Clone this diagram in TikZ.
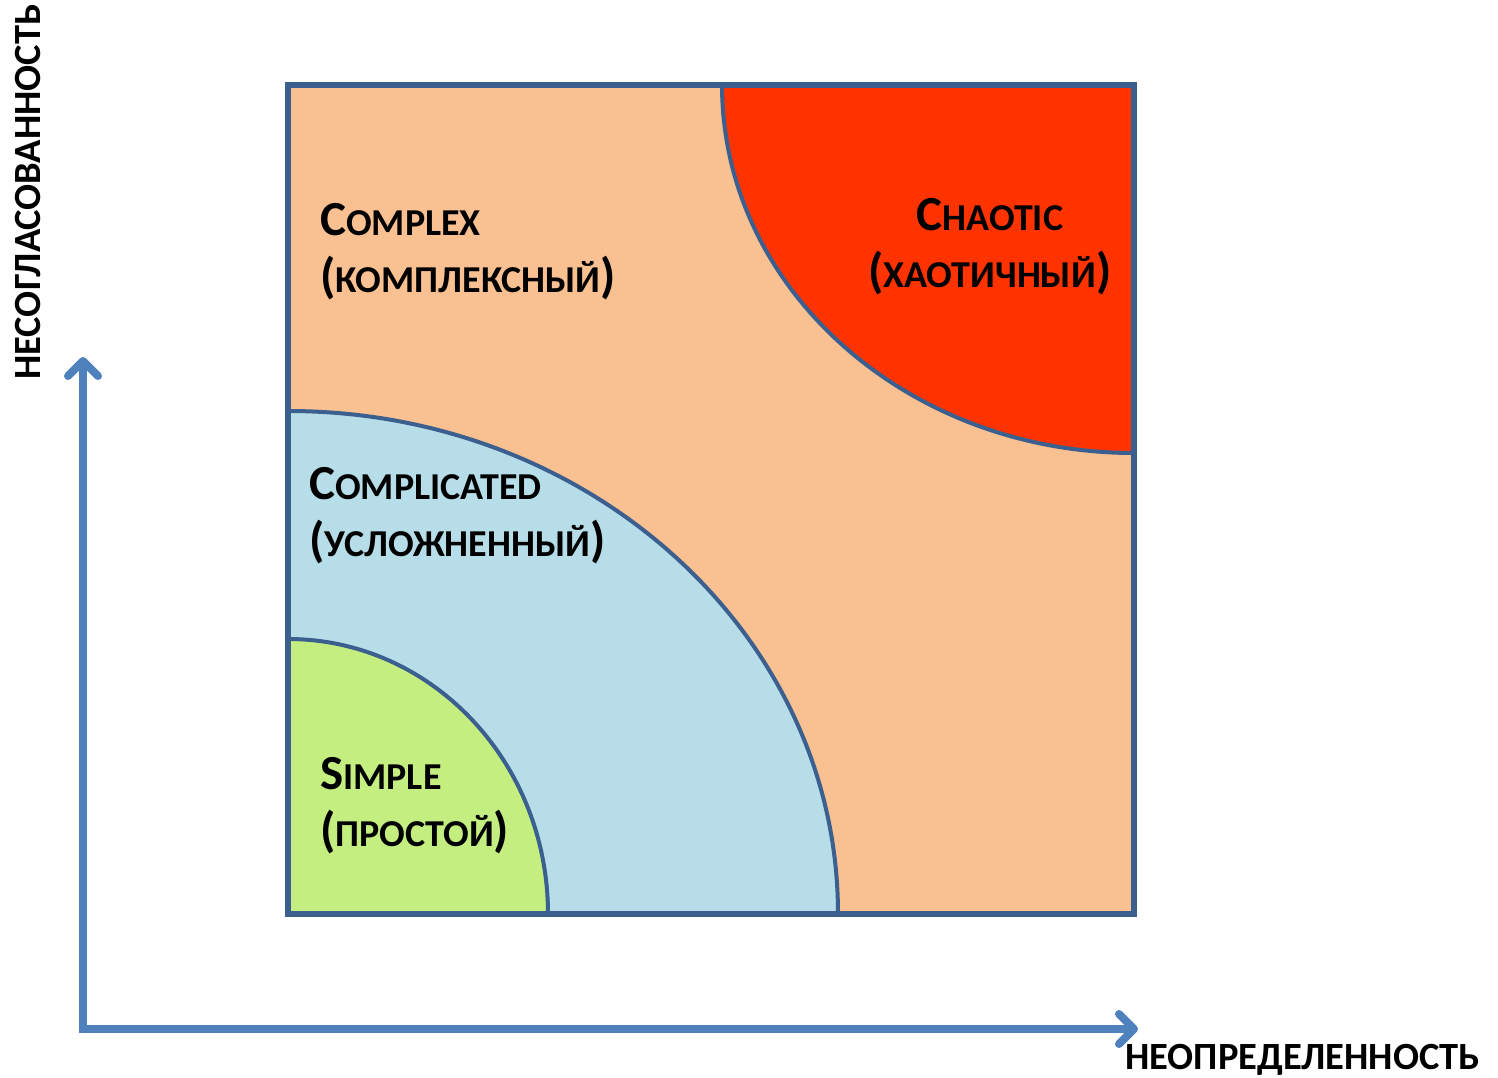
\documentclass[tikz,border=0pt]{standalone}
\usepackage{fontspec}
\setmainfont{Carlito}
\usetikzlibrary{arrows.meta}

\definecolor{frame}{HTML}{3B5F8F}
\definecolor{axisblue}{HTML}{4F81BD}
\definecolor{complexfill}{HTML}{F9C091}
\definecolor{chaosfill}{HTML}{FF3300}
\definecolor{complicatedfill}{HTML}{B7DDE8}
\definecolor{simplefill}{HTML}{C5EE80}

% fake small caps: first letter big, rest small
\newcommand{\smc}[2]{#1{\fontsize{38}{57}\selectfont #2}}

\begin{document}
\begin{tikzpicture}[x=1pt,y=-1pt,
  region/.style={draw=frame,line width=4pt},
  domainlabel/.style={font=\bfseries\fontsize{49}{57}\selectfont,inner sep=0pt},
  axis/.style={draw=axisblue,line width=8pt,
    -{Straight Barb[length=15pt,width=30pt,round]}},
  axislabel/.style={font=\bfseries\fontsize{38.5}{42}\selectfont,inner sep=0pt},
  ]
\useasboundingbox (0,0) rectangle (1498,1077);

\coordinate (sw) at (288,914);
\coordinate (ne) at (1134,85);
\coordinate (xstart) at (79,1029);
\coordinate (ystart) at (83,1033);
\coordinate (xend) at (1138,1029);
\coordinate (yend) at (83,357);

% the whole square: complex
\fill[complexfill] (sw) rectangle (ne);

% chaotic corner
\fill[chaosfill] (722,85) arc[start angle=180,end angle=90,x radius=412,y radius=368] -- (ne) -- cycle;
\draw[region] (722,85) arc[start angle=180,end angle=90,x radius=412,y radius=368];

% complicated
\fill[complicatedfill] (838,914) arc[start angle=0,end angle=-90,x radius=550,y radius=503] -- (sw) -- cycle;
\draw[region] (838,914) arc[start angle=0,end angle=-90,x radius=550,y radius=503];

% simple
\fill[simplefill] (548,914) arc[start angle=0,end angle=-90,x radius=260,y radius=275] -- (sw) -- cycle;
\draw[region] (548,914) arc[start angle=0,end angle=-90,x radius=260,y radius=275];

\draw[frame,line width=6.5pt] (sw) rectangle (ne);

% base anchor = baseline of the last line
\node[domainlabel,anchor=base west,align=left] (complex) at (320,292)
  {\smc{C}{OMPLEX}\\(\smc{}{КОМПЛЕКСНЫЙ})};
\node[domainlabel,anchor=base,align=center] (chaotic) at (990,287)
  {\smc{C}{HAOTIC}\\(\smc{}{ХАОТИЧНЫЙ})};
\node[domainlabel,anchor=base west,align=left] (complicated) at (309,556)
  {\smc{C}{OMPLICATED}\\(\smc{}{УСЛОЖНЕННЫЙ})};
\node[domainlabel,anchor=base west,align=left] (simple) at (320,846)
  {\smc{S}{IMPLE}\\(\smc{}{ПРОСТОЙ})};

\draw[axis] (xstart) -- (xend);
\draw[axis] (ystart) -- (yend);

\node[axislabel,anchor=base east] (xlabel) at (1480,1069) {НЕОПРЕДЕЛЕННОСТЬ};
\node[axislabel,rotate=90] (ylabel) at (28,192) {НЕСОГЛАСОВАННОСТЬ};
\end{tikzpicture}
\end{document}
